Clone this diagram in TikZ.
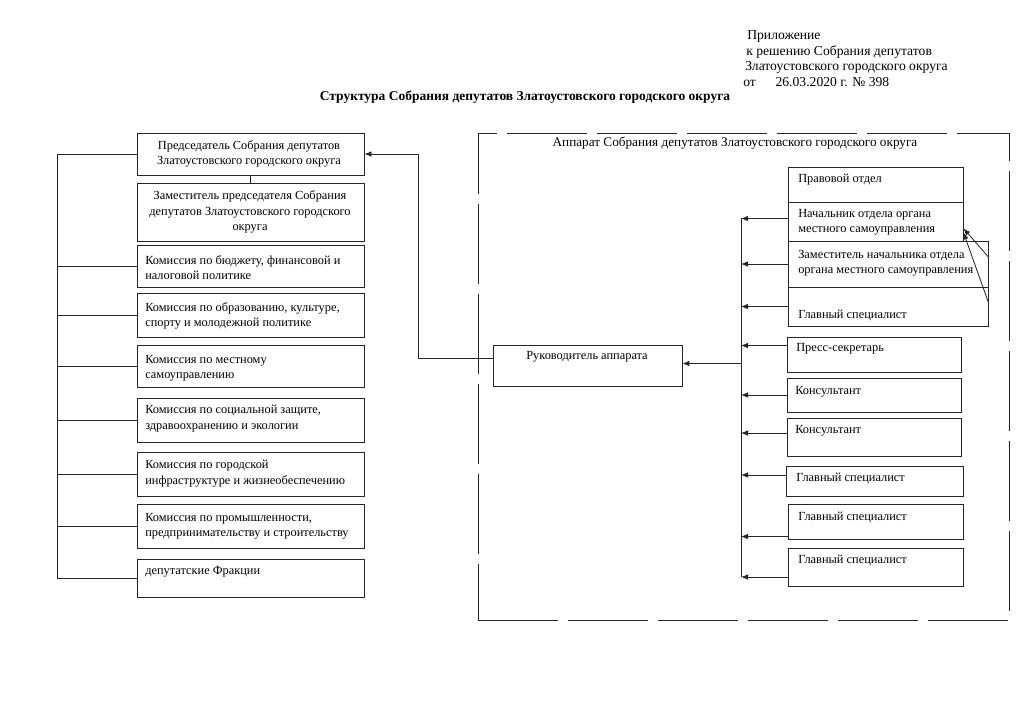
\documentclass[tikz,border=0pt]{standalone}
\usepackage{fontspec}
\setmainfont{Liberation Serif}
\usetikzlibrary{arrows.meta,fit}

\tikzset{
  box/.style={draw=black!85, line width=0.6pt, inner sep=0pt},
  txt/.style={anchor=north west, align=left, inner sep=0pt},
  hdr/.style={txt, anchor=west, font=\fontsize{9.7}{11}\selectfont},
  ln/.style={draw=black!85, line width=0.6pt},
  arr/.style={ln, -{Latex[length=5pt,width=4pt]}}
}

\begin{document}
\begin{tikzpicture}[x=0.025cm, y=-0.025cm, font=\fontsize{8.8}{10.9}\selectfont]
  \useasboundingbox (0,0) rectangle (1024,704);

  % Header
  \node[hdr] (pril1) at (747,36) {Приложение};
  \node[hdr] (pril2) at (746,52) {к решению Собрания депутатов};
  \node[hdr] (pril3) at (745,67) {Златоустовского городского округа};
  \node[hdr] (pril4) at (743,82) {от\hspace{14pt}26.03.2020 г. № 398};
  \node[font=\fontsize{9.6}{11}\selectfont\bfseries] (title) at (525,97)
    {Структура Собрания депутатов Златоустовского городского округа};

  % Left column
  \node[box, fit={(137,133) (364,175)}] (pred) {};
  \node[align=center, inner sep=0pt] (predT) at (249,154) {Председатель Собрания депутатов\\Златоустовского городского округа};
  \node[box, fit={(137,183) (364,241)}] (zam) {};
  \node[align=center, inner sep=0pt] (zamT) at (250,212) {Заместитель председателя Собрания\\депутатов Златоустовского городского\\округа};
  \node[box, fit={(137,245) (364,287)}] (kb) {};
  \node[txt] (kbT) at (145,255) {Комиссия по бюджету, финансовой и\\налоговой политике};
  \node[box, fit={(137,293) (364,337)}] (obr) {};
  \node[txt] (obrT) at (145,302) {Комиссия по образованию, культуре,\\спорту и молодежной политике};
  \node[box, fit={(137,345) (364,387)}] (mest) {};
  \node[txt] (mestT) at (145,355) {Комиссия по местному\\самоуправлению};
  \node[box, fit={(137,398) (364,442)}] (soc) {};
  \node[txt] (socT) at (145,405) {Комиссия по социальной защите,\\здравоохранению и экологии};
  \node[box, fit={(137,452) (364,496)}] (gor) {};
  \node[txt] (gorT) at (145,460) {Комиссия по городской\\инфраструктуре и жизнеобеспечению};
  \node[box, fit={(137,504) (364,548)}] (prom) {};
  \node[txt] (promT) at (145,513) {Комиссия по промышленности,\\предпринимательству и строительству};
  \node[box, fit={(137,559) (364,597)}] (frak) {};
  \node[txt, anchor=west] (frakT) at (145,572) {депутатские Фракции};

  % Left bus
  \coordinate (lbus) at (57,157);
  \draw[ln] (pred.west) -- (pred.west -| lbus) -- (frak.west -| lbus) -- (frak.west);
  \foreach \n in {kb,obr,mest,soc,gor,prom}
    \draw[ln] (\n.west) -- (\n.west -| lbus);
  \draw[ln] (pred.south) -- (zam.north);

  % Apparat
  \node[box, dash pattern=on 57pt off 7pt, fit={(478,133) (1009,620)}] (app) {};
  \node[inner sep=0pt, font=\fontsize{9.4}{11}\selectfont] (appT) at (735,143) {Аппарат Собрания депутатов Златоустовского городского округа};
  \node[box, fit={(493,345) (682,386)}] (ruk) {};
  \node[inner sep=0pt] (rukT) at (587,357) {Руководитель аппарата};

  % Right column
  \node[box, fit={(788,167) (963,202)}] (prav) {};
  \node[txt, anchor=west] (pravT) at (798,180) {Правовой отдел};
  \node[box, fit={(788,202) (963,241)}] (nach) {};
  \node[txt] (nachT) at (798,209) {Начальник отдела органа\\местного самоуправления};
  \node[box, fit={(788,241) (988,287)}] (zamn) {};
  \node[txt] (zamnT) at (798,250) {Заместитель начальника отдела\\органа местного самоуправления};
  \node[box, fit={(788,287) (988,326)}] (glA) {};
  \node[txt, anchor=west] (glAT) at (798,315) {Главный специалист};
  \node[box, fit={(787,337) (961,372)}] (press) {};
  \node[txt, anchor=west] (pressT) at (796,349) {Пресс-секретарь};
  \node[box, fit={(787,378) (961,412)}] (kons1) {};
  \node[txt, anchor=west] (kons1T) at (795,392) {Консультант};
  \node[box, fit={(787,418) (961,456)}] (kons2) {};
  \node[txt, anchor=west] (kons2T) at (795,431) {Консультант};
  \node[box, fit={(786,466) (963,496)}] (gl1) {};
  \node[txt, anchor=west] (gl1T) at (796,478) {Главный специалист};
  \node[box, fit={(788,504) (963,539)}] (gl2) {};
  \node[txt, anchor=west] (gl2T) at (798,517) {Главный специалист};
  \node[box, fit={(788,548) (963,586)}] (gl3) {};
  \node[txt, anchor=west] (gl3T) at (798,560) {Главный специалист};

  % Right bus
  \coordinate (rbT) at (741,218);
  \coordinate (rbB) at (741,577);
  \draw[ln] (rbT) -- (rbB);
  \foreach \n/\d in {nach/-3, zamn/0, glA/0, press/-9, kons1/0, kons2/-4, gl1/-6, gl2/15, gl3/10}
    \draw[arr] ([shift={(0,\d)}]\n.west) coordinate (s) -- (s -| rbT);

  % Links to Руководитель and Председатель
  \path ([shift={(0,-2)}]ruk.east) coordinate (rk);
  \draw[arr] (rk -| rbT) -- (rk);
  \coordinate (lbend) at (418,157);
  \draw[arr] ([shift={(0,-7)}]ruk.west) -| (lbend |- pred.east) -- (pred.east);

  % Zamestitel -> Nachalnik
  \draw[arr] ([shift={(0,-7)}]zamn.east) -- ([shift={(0,-13)}]nach.south east);
  \draw[arr] ([shift={(0,-4)}]glA.east) -- ([shift={(0,-9)}]nach.south east);
\end{tikzpicture}
\end{document}
